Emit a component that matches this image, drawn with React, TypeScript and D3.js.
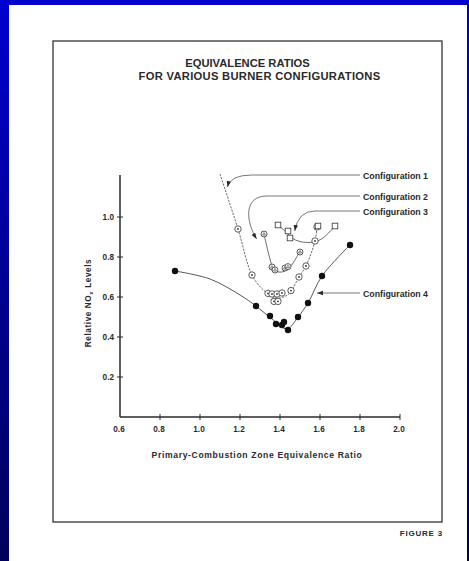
import React from "react";
import * as d3 from "d3";

// ---- data ----
const xTicks = [0.6, 0.8, 1.0, 1.2, 1.4, 1.6, 1.8, 2.0];
const yTicks = [0.2, 0.4, 0.6, 0.8, 1.0];

// Configuration 1 (circled dots, dashed curve)
const c1Points: [number, number][] = [
  [1.19, 0.94], [1.26, 0.71], [1.34, 0.618], [1.36, 0.615], [1.385, 0.615],
  [1.41, 0.62], [1.37, 0.578], [1.39, 0.578], [1.455, 0.632], [1.495, 0.70],
  [1.53, 0.755], [1.575, 0.88], [1.585, 0.95],
];
const c1Curve: [number, number][] = [
  [1.10, 1.215], [1.19, 0.94], [1.26, 0.71], [1.32, 0.632], [1.38, 0.595],
  [1.44, 0.612], [1.495, 0.70], [1.53, 0.755], [1.575, 0.88], [1.585, 0.95],
];

// Configuration 2 (circled triangles)
const c2Points: [number, number][] = [
  [1.32, 0.915], [1.36, 0.75], [1.375, 0.735], [1.425, 0.745], [1.44, 0.752], [1.50, 0.825],
];
const c2Curve: [number, number][] = [
  [1.32, 0.915], [1.35, 0.79], [1.37, 0.735], [1.41, 0.725], [1.45, 0.75], [1.50, 0.83],
];

// Configuration 3 (squares)
const c3Points: [number, number][] = [
  [1.39, 0.96], [1.44, 0.93], [1.45, 0.895], [1.59, 0.955], [1.675, 0.955],
];
const c3Curve: [number, number][] = [
  [1.39, 0.96], [1.43, 0.925], [1.46, 0.895], [1.50, 0.877], [1.57, 0.875],
  [1.615, 0.895], [1.675, 0.955],
];

// Configuration 4 (filled dots)
const c4Points: [number, number][] = [
  [0.875, 0.73], [1.28, 0.555], [1.35, 0.505], [1.38, 0.465], [1.41, 0.46],
  [1.42, 0.475], [1.44, 0.435], [1.49, 0.50], [1.54, 0.57], [1.61, 0.705], [1.75, 0.86],
];
const c4Curve: [number, number][] = [
  [0.875, 0.73], [1.05, 0.69], [1.20, 0.61], [1.28, 0.555], [1.36, 0.49],
  [1.435, 0.44], [1.49, 0.50], [1.54, 0.57], [1.61, 0.705], [1.75, 0.86],
];

const configLabels = ["Configuration 1", "Configuration 2", "Configuration 3", "Configuration 4"];
const labelYs = [1.205, 1.10, 1.027, 0.617];

const W = 469;
const H = 561;

export default function App() {
  const x = d3.scaleLinear().domain([0.6, 2.0]).range([120, 400]);
  const y = d3.scaleLinear().domain([0, 1.0]).range([417, 217]);
  const line = d3
    .line<[number, number]>()
    .x((d) => x(d[0]))
    .y((d) => y(d[1]))
    .curve(d3.curveCatmullRom.alpha(0.5));

  const ink = "#2a2a2a";
  const font = "'Liberation Sans', Arial, sans-serif";
  const labelX = x(1.815);
  const lineStart = x(1.80);

  const leader1 = `M${lineStart},${y(1.21)} L${x(1.26)},${y(1.21)} Q${x(1.152)},${y(1.21)} ${x(1.137)},${y(1.15)}`;
  const leader2 = `M${lineStart},${y(1.105)} L${x(1.335)},${y(1.105)} C${x(1.215)},${y(1.105)} ${x(1.23)},${y(0.975)} ${x(1.283)},${y(0.89)}`;
  const leader3 = `M${lineStart},${y(1.03)} L${x(1.575)},${y(1.03)} Q${x(1.49)},${y(1.03)} ${x(1.474)},${y(0.93)}`;
  const leader4 = `M${lineStart},${y(0.62)} L${x(1.585)},${y(0.62)}`;

  return (
    <svg
      width={W}
      height={H}
      style={{ position: "absolute", left: 0, top: 0, display: "block" }}
      xmlns="http://www.w3.org/2000/svg"
    >
      <defs>
        <linearGradient id="bg" x1="0" y1="0" x2="0" y2="1">
          <stop offset="0" stopColor="#0000d0" />
          <stop offset="1" stopColor="#00005a" />
        </linearGradient>
        <marker id="arr" viewBox="0 0 6 6" refX="6" refY="3" markerWidth="6" markerHeight="6" orient="auto" markerUnits="userSpaceOnUse">
          <path d="M0,0.8 L6,3 L0,5.2 Z" fill={ink} />
        </marker>
      </defs>
      <rect x={0} y={0} width={W} height={H} fill="url(#bg)" />
      <rect x={9} y={5} width={458} height={H - 5} fill="#ffffff" />

      {/* frame */}
      <rect x={53} y={41} width={389} height={481} fill="none" stroke="#333" strokeWidth={1.3} />

      {/* title */}
      <text x={247.5} y={66.5} textAnchor="middle" fontFamily={font} fontWeight="bold" fontSize={11.2} fill={ink}>
        EQUIVALENCE RATIOS
      </text>
      <text x={259.5} y={80} textAnchor="middle" fontFamily={font} fontWeight="bold" fontSize={11.2} fill={ink} letterSpacing={0.3}>
        FOR VARIOUS BURNER CONFIGURATIONS
      </text>

      {/* axes */}
      <line x1={x(0.6)} x2={x(0.6)} y1={y(0)} y2={y(1.21)} stroke={ink} strokeWidth={1.5} />
      <line x1={x(0.6)} x2={x(2.0)} y1={y(0)} y2={y(0)} stroke={ink} strokeWidth={1.5} />
      {xTicks.map((t) => (
        <g key={"xt" + t}>
          {t > 0.6 && <line x1={x(t)} x2={x(t)} y1={y(0) - 3} y2={y(0) + 3} stroke={ink} strokeWidth={1} />}
          <text x={x(t) - 1} y={y(0) + 15} textAnchor="middle" fontFamily={font} fontWeight="bold" fontSize={8.2} fill={ink}>
            {t.toFixed(1)}
          </text>
        </g>
      ))}
      {yTicks.map((t) => (
        <g key={"yt" + t}>
          <line x1={x(0.6) - 3} x2={x(0.6) + 3} y1={y(t)} y2={y(t)} stroke={ink} strokeWidth={1} />
          <text x={x(0.6) - 6} y={y(t) + 2.9} textAnchor="end" fontFamily={font} fontWeight="bold" fontSize={8.2} fill={ink}>
            {t.toFixed(1)}
          </text>
        </g>
      ))}
      <text
        transform={`translate(91,303) rotate(-90)`}
        textAnchor="middle"
        fontFamily={font}
        fontWeight="bold"
        fontSize={8.2}
        letterSpacing={0.6}
        fill={ink}
      >
        Relative NO<tspan fontSize={6} dy={2}>x</tspan>
        <tspan dy={-2}> Levels</tspan>
      </text>
      <text x={257} y={458} textAnchor="middle" fontFamily={font} fontWeight="bold" fontSize={8.6} fill={ink} letterSpacing={0.65}>
        Primary-Combustion Zone Equivalence Ratio
      </text>
      <text x={443} y={536} textAnchor="end" fontFamily={font} fontWeight="bold" fontSize={8} fill={ink} letterSpacing={0.8}>
        FIGURE 3
      </text>

      {/* curves */}
      <path d={line(c1Curve) || ""} fill="none" stroke="#444" strokeWidth={0.8} strokeDasharray="2.2,1.2" />
      <path d={line(c2Curve) || ""} fill="none" stroke="#444" strokeWidth={0.8} />
      <path d={line(c3Curve) || ""} fill="none" stroke="#444" strokeWidth={0.8} />
      <path d={line(c4Curve) || ""} fill="none" stroke="#444" strokeWidth={0.9} />

      {/* markers */}
      {c1Points.map((d, i) => (
        <g key={"c1" + i} transform={`translate(${x(d[0])},${y(d[1])})`}>
          <circle r={3.2} fill="#fff" stroke="#333" strokeWidth={0.8} />
          <circle r={0.9} fill="#333" />
        </g>
      ))}
      {c2Points.map((d, i) => (
        <g key={"c2" + i} transform={`translate(${x(d[0])},${y(d[1])})`}>
          <circle r={3} fill="#fff" stroke="#333" strokeWidth={0.8} />
          <path d="M-1.5,1.1 L0,-1.5 L1.5,1.1 Z" fill="none" stroke="#333" strokeWidth={0.6} />
        </g>
      ))}
      {c3Points.map((d, i) => (
        <rect key={"c3" + i} x={x(d[0]) - 2.8} y={y(d[1]) - 2.8} width={5.6} height={5.6} fill="#fff" stroke="#333" strokeWidth={0.8} />
      ))}
      {c4Points.map((d, i) => (
        <circle key={"c4" + i} cx={x(d[0])} cy={y(d[1])} r={3.2} fill="#111" />
      ))}

      {/* leaders & labels */}
      {[leader1, leader2, leader3, leader4].map((p, i) => (
        <path key={"ld" + i} d={p} fill="none" stroke="#555" strokeWidth={0.8} markerEnd="url(#arr)" />
      ))}
      {configLabels.map((l, i) => (
        <text key={l} x={labelX} y={y(labelYs[i]) + 3} fontFamily={font} fontWeight="bold" fontSize={8.8} fill={ink}>
          {l}
        </text>
      ))}
    </svg>
  );
}
